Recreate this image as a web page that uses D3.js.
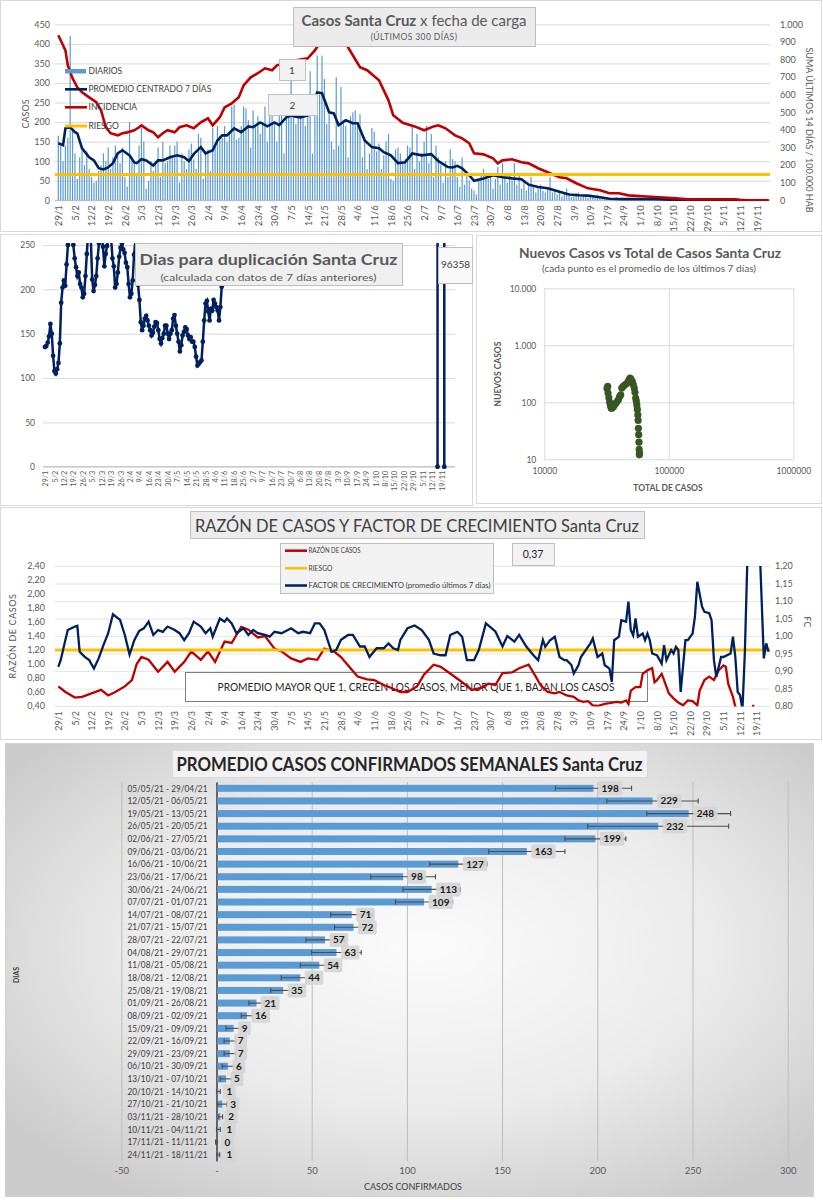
<!DOCTYPE html>
<html>
<head>
<meta charset="utf-8">
<script src="https://cdn.jsdelivr.net/npm/d3@7"></script>
<style>
  body { margin: 0; background: #fff; }
  svg { display: block; font-family: Lato, 'Open Sans', sans-serif; }
</style>
</head>
<body>
<div id="chart"></div>
<script>
// ---- datos ----
var weekLabels = ['29/1', '5/2', '12/2', '19/2', '26/2', '5/3', '12/3', '19/3', '26/3', '2/4', '9/4',
  '16/4', '23/4', '30/4', '7/5', '14/5', '21/5', '28/5', '4/6', '11/6', '18/6', '25/6', '2/7', '9/7',
  '16/7', '23/7', '30/7', '6/8', '13/8', '20/8', '27/8', '3/9', '10/9', '17/9', '24/9', '1/10', '8/10',
  '15/10', '22/10', '29/10', '5/11', '12/11', '19/11'];

// casos diarios desde 29/1 (300 dias)
var dailyCases = [
  165, 140, 100, 140, 160, 420, 180,
  120, 55, 110, 130, 90, 125, 80,
  60, 45, 50, 75, 90, 120, 100,
  135, 80, 110, 140, 120, 95, 135,
  60, 35, 200, 110, 95, 70, 140,
  185, 150, 30, 50, 100, 75, 90,
  135, 60, 150, 95, 100, 140, 110,
  140, 150, 45, 120, 100, 80, 130,
  145, 105, 80, 170, 160, 55, 120,
  130, 75, 185, 140, 190, 165, 160,
  190, 150, 170, 240, 245, 155, 160,
  190, 240, 235, 205, 135, 230, 190,
  215, 170, 200, 240, 150, 215, 240,
  195, 150, 230, 250, 120, 250, 250,
  310, 240, 195, 250, 220, 260, 190,
  240, 330, 120, 270, 370, 270, 370,
  310, 195, 220, 150, 130, 315, 140,
  290, 205, 190, 110, 215, 225, 230,
  200, 220, 110, 150, 80, 120, 185,
  175, 125, 145, 80, 115, 150, 170,
  55, 50, 130, 135, 120, 95, 105,
  140, 135, 190, 80, 170, 100, 120,
  150, 190, 95, 170, 60, 140, 110,
  90, 45, 100, 60, 130, 105, 100,
  60, 35, 110, 40, 75, 50, 30,
  25, 15, 55, 70, 80, 60, 55,
  70, 30, 55, 85, 40, 95, 60,
  45, 65, 50, 95, 40, 70, 30,
  50, 25, 45, 60, 35, 20, 30,
  40, 25, 20, 30, 60, 20, 25,
  15, 25, 10, 20, 30, 12, 8,
  10, 18, 20, 8, 12, 15, 6,
  12, 8, 6, 14, 10, 5, 8,
  4, 6, 2, 3, 8, 2, 3,
  3, 5, 2, 4, 1, 3, 6,
  2, 4, 3, 5, 1, 3, 2,
  1, 0, 3, 1, 2, 0, 1,
  0, 2, 0, 1, 3, 0, 1,
  1, 0, 0, 2, 0, 1, 0,
  0, 1, 0, 0, 2, 0, 0,
  1, 0, 0, 1, 0, 0, 0,
  0, 0, 0, 0, 1, 0, 0,
  0, 1, 0, 0, 0, 0
];

// [dia, valor]
var promedio7 = [[0, 146], [2, 141], [3, 184], [5, 187], [7, 174], [8, 171], [10, 133], [13, 110], [15, 102],
  [17, 82], [19, 79], [21, 84], [23, 95], [25, 120], [27, 128], [30, 115], [32, 97], [33, 95], [35, 105],
  [37, 102], [40, 89], [42, 102], [44, 102], [47, 110], [50, 115], [53, 110], [55, 100], [57, 118], [60, 136],
  [62, 120], [65, 128], [67, 153], [69, 166], [71, 166], [74, 184], [77, 174], [80, 189], [82, 187], [85, 199],
  [88, 189], [91, 199], [93, 192], [96, 212], [98, 217], [100, 214], [102, 212], [105, 217], [107, 245],
  [109, 276], [111, 274], [114, 225], [116, 222], [118, 192], [121, 205], [124, 197], [126, 197], [129, 153],
  [132, 136], [135, 133], [137, 123], [140, 115], [143, 95], [146, 97], [149, 120], [153, 115], [157, 118],
  [160, 100], [164, 85], [166, 84], [168, 88], [170, 82], [173, 64], [175, 50], [179, 56], [183, 64], [187, 59],
  [191, 56], [195, 54], [198, 40], [202, 34], [206, 31], [211, 22], [215, 15], [219, 13], [223, 12], [228, 8],
  [232, 4], [237, 3], [243, 3], [251, 3], [260, 1], [270, 1], [280, 0], [290, 0], [299, 0]];

var incidencia = [[0, 938], [3, 852], [4, 767], [6, 693], [8, 642], [10, 614], [13, 585], [16, 557], [18, 511],
  [20, 415], [22, 381], [25, 369], [27, 381], [29, 386], [32, 398], [34, 415], [35, 426], [38, 398], [40, 386],
  [42, 358], [44, 381], [46, 398], [49, 386], [51, 415], [54, 426], [57, 409], [60, 443], [63, 466], [65, 426],
  [68, 472], [70, 528], [73, 551], [76, 585], [78, 653], [81, 699], [84, 722], [87, 750], [90, 739], [92, 767],
  [96, 780], [100, 795], [105, 807], [108, 852], [110, 892], [113, 960], [116, 1020], [119, 980], [122, 869],
  [127, 756], [130, 739], [135, 682], [139, 568], [141, 483], [145, 440], [150, 420], [154, 398], [158, 420],
  [160, 426], [163, 409], [167, 369], [170, 352], [173, 324], [175, 267], [179, 261], [183, 239], [185, 210],
  [187, 227], [191, 233], [195, 216], [198, 210], [202, 182], [206, 159], [211, 131], [214, 125], [218, 97],
  [223, 68], [228, 57], [232, 40], [236, 40], [240, 28], [246, 23], [253, 17], [260, 11], [265, 6], [277, 6],
  [285, 6], [287, 3], [290, 0], [299, 0]];

var riesgoIncidencia = 146;

var duplicacion = [[0, 135], [1, 136], [2, 140], [3, 147], [4, 161], [5, 150], [6, 125], [7, 108], [8, 105],
  [9, 110], [10, 117], [11, 139], [12, 185], [13, 202], [14, 210], [15, 204], [16, 228], [17, 250], [18, 275],
  [19, 290], [20, 275], [21, 250], [22, 235], [23, 225], [24, 215], [25, 219], [26, 206], [27, 202], [28, 191],
  [29, 195], [30, 215], [31, 240], [32, 265], [33, 280], [34, 255], [35, 211], [36, 198], [37, 205], [38, 215],
  [39, 235], [40, 252], [41, 265], [42, 270], [43, 248], [44, 226], [45, 240], [46, 249], [47, 262], [48, 275],
  [49, 258], [50, 235], [51, 226], [52, 202], [53, 206], [54, 219], [55, 237], [56, 247], [57, 252], [58, 245],
  [59, 241], [60, 230], [61, 225], [62, 206], [63, 191], [64, 195], [65, 210], [66, 239], [67, 255], [68, 245],
  [69, 205], [70, 188], [71, 163], [72, 154], [73, 159], [74, 167], [75, 170], [76, 165], [77, 159], [78, 154],
  [79, 148], [80, 151], [81, 158], [82, 163], [83, 162], [84, 154], [85, 144], [86, 139], [87, 145], [88, 150],
  [89, 159], [90, 159], [91, 150], [92, 144], [93, 150], [94, 154], [95, 167], [96, 171], [97, 159], [98, 150],
  [99, 141], [100, 130], [101, 137], [102, 148], [103, 152], [104, 157], [105, 155], [106, 148], [107, 144],
  [108, 146], [109, 141], [110, 141], [111, 135], [112, 124], [113, 114], [114, 116], [115, 118], [116, 120],
  [117, 141], [118, 165], [119, 184], [120, 187], [121, 175], [122, 165], [123, 178], [124, 176], [125, 188],
  [126, 184], [127, 180], [128, 176], [129, 165], [130, 180], [131, 203],
  [132, null],
  [291, 0], [292, 96358], [295, 96358], [296, 0]];
var duplicacionEtiqueta = '96358';

var scatterTotal = [32300, 31900, 32500, 33000, 33500, 34000, 34500, 35200, 36000, 37000, 38000, 39300, 40200,
  41100, 41900, 43000, 44500, 46000, 47300, 48200, 48800, 49600, 50900, 51800, 52800, 53500, 54200, 54800,
  55400, 55900, 56400, 56700, 57000, 57300, 57600, 57800, 58000, 58100];
var scatterNuevos = [190, 175, 145, 120, 100, 88, 79, 80, 84, 92, 100, 110, 125, 135, 178, 190, 203, 215, 232,
  250, 267, 255, 232, 205, 178, 150, 119, 105, 90, 75, 60, 48, 35, 27, 20, 15, 12, 13];

var razonCasos = [[0, 0.68], [3, 0.60], [7, 0.52], [10, 0.53], [14, 0.58], [18, 0.63], [21, 0.55], [24, 0.60],
  [28, 0.68], [31, 0.77], [33, 1.00], [35, 1.10], [38, 1.06], [42, 0.89], [46, 1.03], [49, 0.89], [53, 1.03],
  [56, 1.18], [60, 1.06], [63, 1.18], [66, 1.03], [70, 1.32], [73, 1.30], [77, 1.53], [80, 1.49], [84, 1.38],
  [87, 1.40], [91, 1.22], [94, 1.18], [98, 1.08], [102, 1.03], [105, 1.08], [109, 1.06], [112, 1.22],
  [116, 1.18], [119, 1.10], [123, 0.94], [126, 0.82], [130, 0.78], [133, 0.77], [137, 0.70], [140, 0.66],
  [144, 0.60], [147, 0.60], [151, 0.68], [154, 0.85], [158, 0.99], [161, 0.96], [166, 0.84], [170, 0.74],
  [174, 0.63], [178, 0.66], [181, 0.72], [184, 0.70], [187, 0.87], [191, 0.88], [194, 0.94], [198, 0.99],
  [201, 0.82], [203, 0.70], [206, 0.60], [209, 0.58], [211, 0.60], [214, 0.55], [217, 0.53], [219, 0.48],
  [221, 0.46], [223, 0.47], [225, 0.41], [227, 0.40], [230, 0.43], [232, 0.44], [235, 0.46], [237, 0.45],
  [239, 0.48], [240, 0.43], [241, 0.62], [243, 0.67], [245, 0.67], [246, 0.86], [248, 0.91], [250, 0.94],
  [251, 0.74], [252, 0.77], [254, 0.86], [255, 0.77], [257, 0.58], [259, 0.51], [261, 0.45], [263, 0.41],
  [265, 0.48], [267, 0.47], [269, 0.41], [270, 0.62], [272, 0.77], [274, 0.82], [276, 0.77], [278, 0.91],
  [280, 0.98], [281, 0.96], [282, 0.72], [284, 0.53], [285, 0.39], [286, 0.30]];
var razonFinal = [[292, 0.40], [293, 0.40]];

var factorCrecimiento = [[0, 0.912], [1, 0.931], [3, 0.989], [4, 1.017], [7, 1.027], [8, 1.029], [9, 0.955],
  [11, 0.941], [13, 0.931], [15, 0.907], [17, 0.936], [19, 0.974], [21, 1.008], [23, 1.062], [26, 1.046],
  [28, 1.003], [30, 0.947], [32, 0.988], [34, 1.014], [36, 1.022], [38, 1.041], [40, 1.003], [42, 1.017],
  [44, 1.012], [46, 1.027], [49, 1.017], [51, 1.008], [53, 0.988], [55, 1.008], [57, 1.041], [60, 1.027],
  [62, 1.008], [64, 1.022], [65, 0.998], [68, 1.050], [70, 1.041], [71, 1.050], [73, 1.036], [75, 1.008],
  [78, 1.022], [80, 1.003], [82, 1.017], [84, 1.008], [87, 1.003], [89, 0.998], [91, 1.012], [94, 1.008],
  [98, 1.022], [101, 1.008], [103, 1.012], [106, 1.008], [108, 1.036], [110, 1.036], [112, 1.017], [115, 0.955],
  [117, 0.960], [119, 0.989], [122, 1.003], [124, 1.003], [127, 0.970], [129, 0.970], [131, 0.940], [134, 0.965],
  [137, 0.965], [139, 0.979], [141, 0.965], [143, 0.960], [144, 0.989], [147, 1.022], [150, 1.030], [153, 1.017],
  [156, 0.989], [158, 0.950], [161, 0.945], [163, 0.945], [165, 1.003], [168, 1.012], [170, 0.998], [172, 0.931],
  [175, 0.931], [177, 0.960], [180, 1.036], [184, 1.013], [187, 0.970], [189, 1.000], [192, 0.984], [194, 1.003],
  [197, 0.970], [200, 0.945], [202, 0.931], [204, 0.989], [205, 0.969], [207, 0.988], [209, 0.998], [211, 0.940],
  [213, 0.931], [214, 0.931], [216, 0.917], [217, 0.893], [219, 0.917], [220, 0.940], [224, 0.979], [225, 0.993],
  [227, 0.940], [229, 0.950], [230, 0.917], [232, 0.907], [233, 0.869], [234, 0.988], [236, 0.998], [237, 1.045],
  [239, 1.041], [240, 1.098], [241, 1.017], [242, 1.002], [243, 1.050], [244, 0.998], [246, 1.007], [247, 0.988],
  [248, 1.007], [249, 0.988], [250, 0.950], [252, 0.945], [254, 0.921], [255, 0.974], [256, 0.931], [258, 0.960],
  [259, 0.950], [260, 0.969], [261, 0.960], [262, 0.840], [264, 0.988], [265, 0.988], [267, 1.007], [268, 1.055],
  [269, 1.155], [271, 1.084], [272, 1.069], [274, 1.065], [275, 1.045], [276, 0.931], [277, 0.883], [279, 0.940],
  [280, 0.940], [283, 0.950], [284, 0.998], [285, 0.940], [286, 0.840], [287, 0.831], [288, 0.790], [289, 0.950],
  [290, 1.200], [291, 1.300], [295, 1.300], [297, 0.936], [298, 0.979], [299, 0.955]];
var riesgoRazon = 1.2;
var ultimoValor = '0,37';

var semanas = ['05/05/21 - 29/04/21', '12/05/21 - 06/05/21', '19/05/21 - 13/05/21', '26/05/21 - 20/05/21',
  '02/06/21 - 27/05/21', '09/06/21 - 03/06/21', '16/06/21 - 10/06/21', '23/06/21 - 17/06/21',
  '30/06/21 - 24/06/21', '07/07/21 - 01/07/21', '14/07/21 - 08/07/21', '21/07/21 - 15/07/21',
  '28/07/21 - 22/07/21', '04/08/21 - 29/07/21', '11/08/21 - 05/08/21', '18/08/21 - 12/08/21',
  '25/08/21 - 19/08/21', '01/09/21 - 26/08/21', '08/09/21 - 02/09/21', '15/09/21 - 09/09/21',
  '22/09/21 - 16/09/21', '29/09/21 - 23/09/21', '06/10/21 - 30/09/21', '13/10/21 - 07/10/21',
  '20/10/21 - 14/10/21', '27/10/21 - 21/10/21', '03/11/21 - 28/10/21', '10/11/21 - 04/11/21',
  '17/11/21 - 11/11/21', '24/11/21 - 18/11/21'];
var promedioSemanal = [198, 229, 248, 232, 199, 163, 127, 98, 113, 109, 71, 72, 57, 63, 54, 44, 35, 21, 16, 9,
  7, 7, 6, 5, 1, 3, 2, 1, 0, 1];
var errorSemanal = [20, 24, 22, 37, 16, 20, 15, 17, 15, 15, 11, 10, 10, 13, 10, 10, 6.5, 4, 3, 4, 3, 3, 3, 3,
  1, 2.5, 1.2, 1, 0.5, 0.7];

// ---- util ----
var svg = d3.select('#chart').append('svg').attr('width', 823).attr('height', 1200);
var es = d3.formatLocale({ decimal: ',', thousands: '.', grouping: [3], currency: ['', ''] });
var weekDays = weekLabels.map(function(d, i) { return i * 7; });

function panel(x, y, w, h) {
  svg.append('rect').attr('x', x + 0.5).attr('y', y + 0.5).attr('width', w).attr('height', h)
    .attr('fill', '#fff').attr('stroke', '#d9d9d9');
}
function box(x, y, w, h, fill) {
  return svg.append('rect').attr('x', x + 0.5).attr('y', y + 0.5).attr('width', w).attr('height', h)
    .attr('fill', fill || '#ebebeb').attr('stroke', '#bfbfbf');
}
function txt(x, y, s, size, color, anchor, weight) {
  return svg.append('text').attr('x', x).attr('y', y).text(s)
    .attr('font-size', size).attr('fill', color || '#595959')
    .attr('text-anchor', anchor || 'middle').attr('font-weight', weight || 'normal');
}
function clip(id, x, y, w, h) {
  svg.append('clipPath').attr('id', id).append('rect')
    .attr('x', x).attr('y', y).attr('width', w).attr('height', h);
  return 'url(#' + id + ')';
}
function cleanAxis(g, size, lineColor) {
  g.attr('font-family', null).attr('font-size', size);
  g.select('.domain').remove();
  g.selectAll('.tick line').attr('stroke', lineColor || '#d9d9d9');
  g.selectAll('.tick text').attr('fill', '#595959');
}
function rotateTicks(g, off) {
  g.selectAll('.tick text').attr('transform', 'rotate(-90)').attr('text-anchor', 'end')
    .attr('x', -off).attr('y', 0).attr('dy', '0.35em');
}

// ================= 1. Casos x fecha de carga =================
panel(0, 0, 821, 231);
var x1 = d3.scaleLinear().domain([0, 294]).range([58.3, 756.7]);
var y1 = d3.scaleLinear().domain([0, 450]).range([200.3, 24.3]);
var y1r = d3.scaleLinear().domain([0, 1000]).range([200.3, 24.3]);

svg.append('g').attr('transform', 'translate(55,0)')
  .call(d3.axisLeft(y1).tickValues(d3.range(0, 451, 50)).tickSize(-715).tickPadding(5))
  .call(cleanAxis, 9);
svg.append('g').attr('transform', 'translate(770,0)')
  .call(d3.axisRight(y1r).tickValues(d3.range(0, 1001, 100)).tickSize(0).tickPadding(10).tickFormat(es.format(',')))
  .call(cleanAxis, 9);
svg.append('g').attr('transform', 'translate(0,' + y1(0) + ')')
  .call(d3.axisBottom(x1).tickValues(weekDays).tickSize(0).tickFormat(function(d, i) { return weekLabels[i]; }))
  .call(cleanAxis, 9.5).call(rotateTicks, 5);
svg.append('line').attr('x1', 55).attr('x2', 770).attr('y1', y1(0)).attr('y2', y1(0)).attr('stroke', '#bfbfbf');

var c1 = clip('c1', 55, 24, 715, 177);
svg.append('g').attr('clip-path', c1).selectAll('rect').data(dailyCases).join('rect')
  .attr('x', function(d, i) { return x1(i) - 0.6; }).attr('width', 1.2)
  .attr('y', function(d) { return y1(d); })
  .attr('height', function(d) { return y1(0) - y1(d); })
  .attr('fill', '#5b9bd5');

var line1 = d3.line().x(function(d) { return x1(d[0]); }).y(function(d) { return y1(d[1]); });
var line1r = d3.line().x(function(d) { return x1(d[0]); }).y(function(d) { return y1r(d[1]); });
svg.append('path').datum(promedio7).attr('d', line1).attr('clip-path', c1)
  .attr('fill', 'none').attr('stroke', '#002060').attr('stroke-width', 2.6);
svg.append('path').datum(incidencia).attr('d', line1r).attr('clip-path', c1)
  .attr('fill', 'none').attr('stroke', '#c00000').attr('stroke-width', 2.6);
svg.append('line').attr('x1', 55).attr('x2', 770)
  .attr('y1', y1r(riesgoIncidencia)).attr('y2', y1r(riesgoIncidencia))
  .attr('stroke', '#ffc000').attr('stroke-width', 3);

// leyenda
svg.append('rect').attr('x', 65).attr('y', 69).attr('width', 21).attr('height', 4.5).attr('fill', '#5b9bd5');
[[89.3, '#002060', 2.6], [107.3, '#c00000', 2.6], [126, '#ffc000', 3]].forEach(function(s) {
  svg.append('line').attr('x1', 65).attr('x2', 87).attr('y1', s[0]).attr('y2', s[0])
    .attr('stroke', s[1]).attr('stroke-width', s[2]);
});
['DIARIOS', 'PROMEDIO CENTRADO 7 DÍAS', 'INCIDENCIA', 'RIESGO'].forEach(function(s, i) {
  txt(88.5, [71.3, 89.3, 107.3, 126][i], s, 8.5, '#404040', 'start').attr('dy', '0.35em');
});

txt(26, 114, 'CASOS', 9, '#595959').attr('transform', 'rotate(-90,26,114)').attr('dy', '0.35em');
txt(809, 130, 'SUMA  ÚLTIMOS 14 DÍAS / 100.000 HAB', 9, '#595959')
  .attr('transform', 'rotate(90,809,130)').attr('dy', '0.35em');

box(293, 7, 242, 39);
var t1 = txt(414, 26, '', 15, '#595959');
t1.append('tspan').text('Casos  Santa  Cruz').attr('font-weight', 'bold');
t1.append('tspan').text(' x  fecha  de  carga');
txt(414, 40, '(ÚLTIMOS 300 DÍAS)', 8.5, '#595959').attr('letter-spacing', 0.4);
box(279, 59, 26, 21, '#f2f2f2');
txt(292, 73.5, '1', 10, '#404040');
box(268, 94, 49, 21, '#f2f2f2');
txt(292.5, 108.5, '2', 10, '#404040');

// ================= 2. Dias para duplicacion =================
panel(0, 234, 472, 271);
var x2 = d3.scaleLinear().domain([0, 294]).range([45, 441.6]);
var y2 = d3.scaleLinear().domain([0, 250]).range([466.7, 245]);
svg.append('g').attr('transform', 'translate(43,0)')
  .call(d3.axisLeft(y2).tickValues(d3.range(0, 251, 50)).tickSize(-412).tickPadding(8))
  .call(cleanAxis, 8.5);
svg.append('g').attr('transform', 'translate(0,' + y2(0) + ')')
  .call(d3.axisBottom(x2).tickValues(weekDays).tickSize(0).tickFormat(function(d, i) { return weekLabels[i]; }))
  .call(cleanAxis, 7.3).call(rotateTicks, 4);
svg.append('line').attr('x1', 43).attr('x2', 455).attr('y1', y2(0)).attr('y2', y2(0)).attr('stroke', '#bfbfbf');

var c2 = clip('c2', 40, 243, 420, 226);
var line2 = d3.line().defined(function(d) { return d[1] != null; })
  .x(function(d) { return x2(d[0]); }).y(function(d) { return y2(d[1]); });
svg.append('path').datum(duplicacion).attr('d', line2).attr('clip-path', c2)
  .attr('fill', 'none').attr('stroke', '#002060').attr('stroke-width', 2.5);
svg.append('g').attr('clip-path', c2).selectAll('circle')
  .data(duplicacion.filter(function(d) { return d[1] != null; })).join('circle')
  .attr('cx', function(d) { return x2(d[0]); }).attr('cy', function(d) { return y2(d[1]); })
  .attr('r', 2.4).attr('fill', '#002060');

box(135, 243, 267, 42, '#efefef');
txt(268.5, 265, 'Dias para duplicación Santa Cruz', 16, '#595959', 'middle', 'bold')
  .attr('textLength', 258).attr('lengthAdjust', 'spacingAndGlyphs');
txt(268.5, 281, '(calculada con datos de 7 días anteriores)', 10, '#595959')
  .attr('textLength', 216).attr('lengthAdjust', 'spacingAndGlyphs');
box(438, 247, 34, 36, '#f8f8f8');
txt(455.5, 268, duplicacionEtiqueta, 10, '#404040');

// ================= 3. Nuevos casos vs total =================
panel(476, 235, 345, 268);
var x3 = d3.scaleLog().domain([1e4, 1e6]).range([544.3, 793.3]);
var y3 = d3.scaleLog().domain([10, 1e4]).range([459.3, 288.3]);
svg.append('g').attr('transform', 'translate(544.3,0)')
  .call(d3.axisLeft(y3).tickValues([10, 100, 1000, 10000]).tickSize(-249).tickPadding(8).tickFormat(es.format(',')))
  .call(cleanAxis, 8.5);
svg.append('g').attr('transform', 'translate(0,459.3)')
  .call(d3.axisBottom(x3).tickValues([1e4, 1e5, 1e6]).tickSize(-171).tickPadding(9).tickFormat(d3.format('d')))
  .call(cleanAxis, 8.5);
svg.selectAll('.scatter').data(scatterTotal).join('circle').attr('class', 'scatter')
  .attr('cx', function(d) { return x3(d); })
  .attr('cy', function(d, i) { return y3(scatterNuevos[i]); })
  .attr('r', 3.6).attr('fill', '#375623');
txt(650, 258, 'Nuevos Casos vs Total de Casos Santa Cruz', 12.5, '#595959', 'middle', 'bold')
  .attr('textLength', 262).attr('lengthAdjust', 'spacingAndGlyphs');
txt(649, 272, '(cada punto es el promedio de los últimos 7 días)', 8.5, '#595959')
  .attr('textLength', 214).attr('lengthAdjust', 'spacingAndGlyphs');
txt(668, 491, 'TOTAL DE CASOS', 8.5, '#595959', 'middle', 'bold');
txt(498, 374, 'NUEVOS CASOS', 8.5, '#595959', 'middle', 'bold')
  .attr('transform', 'rotate(-90,498,374)').attr('dy', '0.35em');

// ================= 4. Razon de casos y factor de crecimiento =================
panel(0, 507, 821, 232);
var x4 = d3.scaleLinear().domain([0, 294]).range([58.3, 756.7]);
var y4 = d3.scaleLinear().domain([0.4, 2.4]).range([706, 566]);
var y4r = d3.scaleLinear().domain([0.8, 1.2]).range([706, 566]);
svg.append('g').attr('transform', 'translate(55,0)')
  .call(d3.axisLeft(y4).tickValues(d3.range(0, 11).map(function(i) { return 0.4 + i * 0.2; }))
    .tickSize(0).tickPadding(10).tickFormat(es.format('.2f')))
  .call(cleanAxis, 9);
svg.append('g').attr('transform', 'translate(770,0)')
  .call(d3.axisRight(y4r).tickValues(d3.range(0, 9).map(function(i) { return 0.8 + i * 0.05; }))
    .tickSize(-715).tickPadding(5).tickFormat(es.format('.2f')))
  .call(cleanAxis, 9, '#e6e6e6');
svg.append('g').attr('transform', 'translate(0,706)')
  .call(d3.axisBottom(x4).tickValues(weekDays).tickSize(0).tickFormat(function(d, i) { return weekLabels[i]; }))
  .call(cleanAxis, 9).call(rotateTicks, 5);
txt(13, 636, 'RAZÓN DE CASOS', 9, '#595959').attr('letter-spacing', 0.6)
  .attr('transform', 'rotate(-90,13,636)').attr('dy', '0.35em');
txt(807, 622, 'FC', 9, '#595959').attr('transform', 'rotate(90,807,622)').attr('dy', '0.35em');

box(185, 672, 462, 29, '#fff').attr('stroke', '#7f7f7f');
txt(416, 691, 'PROMEDIO MAYOR QUE 1, CRECEN LOS CASOS, MENOR QUE 1, BAJAN LOS CASOS', 11.5, '#262626')
  .attr('textLength', 397).attr('lengthAdjust', 'spacingAndGlyphs');

var c4 = clip('c4', 55, 566, 715, 140.5);
var line4 = d3.line().x(function(d) { return x4(d[0]); }).y(function(d) { return y4(d[1]); });
var line4r = d3.line().x(function(d) { return x4(d[0]); }).y(function(d) { return y4r(d[1]); });
svg.append('path').datum(razonCasos).attr('d', line4).attr('clip-path', c4)
  .attr('fill', 'none').attr('stroke', '#c00000').attr('stroke-width', 2.3);
svg.append('path').datum(razonFinal).attr('d', line4).attr('clip-path', c4)
  .attr('fill', 'none').attr('stroke', '#c00000').attr('stroke-width', 2.3);
svg.append('line').attr('x1', 55).attr('x2', 770).attr('y1', y4(riesgoRazon)).attr('y2', y4(riesgoRazon))
  .attr('stroke', '#ffc000').attr('stroke-width', 3);
svg.append('path').datum(factorCrecimiento).attr('d', line4r).attr('clip-path', c4)
  .attr('fill', 'none').attr('stroke', '#002060').attr('stroke-width', 2.3);

box(190, 511, 454, 27, '#ececec');
txt(417, 532, 'RAZÓN DE CASOS Y FACTOR DE CRECIMIENTO Santa Cruz', 17.5, '#404040')
  .attr('textLength', 444).attr('lengthAdjust', 'spacingAndGlyphs');
box(280, 543, 213, 50, '#f2f2f2');
[[550.7, '#c00000', 'RAZÓN DE CASOS', 52], [568.3, '#ffc000', 'RIESGO', 24],
  [585.5, '#002060', 'FACTOR DE CRECIMIENTO (promedio últimos 7 días)', 182]].forEach(function(s) {
  svg.append('line').attr('x1', 285).attr('x2', 307).attr('y1', s[0]).attr('y2', s[0])
    .attr('stroke', s[1]).attr('stroke-width', 2.5);
  txt(308.5, s[0], s[2], 7.5, '#404040', 'start').attr('dy', '0.35em')
    .attr('textLength', s[3]).attr('lengthAdjust', 'spacingAndGlyphs');
});
box(512, 543, 42, 22, '#f2f2f2');
txt(533, 558, ultimoValor, 10.5, '#262626');

// ================= 5. Promedio casos confirmados semanales =================
var grad = svg.append('defs').append('radialGradient').attr('id', 'bg')
  .attr('cx', '52%').attr('cy', '45%').attr('r', '65%');
grad.append('stop').attr('offset', '0%').attr('stop-color', '#fbfbfb');
grad.append('stop').attr('offset', '55%').attr('stop-color', '#ebebeb');
grad.append('stop').attr('offset', '100%').attr('stop-color', '#cbcbcb');
svg.append('rect').attr('x', 5.5).attr('y', 743.5).attr('width', 808).attr('height', 453)
  .attr('fill', 'url(#bg)').attr('stroke', '#d0d0d0');

var x5 = d3.scaleLinear().domain([-50, 300]).range([121.3, 787.7]);
var y5 = d3.scaleBand().domain(semanas).range([782, 1161]);
svg.append('g').attr('transform', 'translate(0,1161)')
  .call(d3.axisBottom(x5).tickValues(d3.range(-50, 301, 50)).tickSize(-379).tickPadding(6)
    .tickFormat(function(d) { return d === 0 ? '-' : d; }))
  .call(cleanAxis, 9.5, '#bdbdbd');
svg.append('g').attr('transform', 'translate(' + x5(0) + ',0)')
  .call(d3.axisLeft(y5).tickSize(0).tickPadding(9))
  .call(function(g) {
    g.attr('font-family', null).attr('font-size', 10);
    g.select('.domain').attr('stroke', '#404040').attr('stroke-width', 1.5);
    g.selectAll('.tick text').attr('fill', '#404040')
      .attr('textLength', 80).attr('lengthAdjust', 'spacingAndGlyphs');
  });

var bars5 = svg.append('g');
bars5.selectAll('rect').data(promedioSemanal).join('rect')
  .attr('x', x5(0) + 0.8)
  .attr('y', function(d, i) { return y5(semanas[i]) + y5.bandwidth() / 2 - 3.5; })
  .attr('width', function(d) { return Math.max(0, x5(d) - x5(0) - 0.8); })
  .attr('height', 7).attr('fill', '#5b9bd5');
var err5 = svg.append('g').attr('stroke', '#4d4d4d').attr('stroke-width', 1.1);
promedioSemanal.forEach(function(v, i) {
  var cy = y5(semanas[i]) + y5.bandwidth() / 2;
  var a = x5(v - errorSemanal[i]), b = x5(v + errorSemanal[i]);
  err5.append('line').attr('x1', a).attr('x2', b).attr('y1', cy).attr('y2', cy);
  err5.append('line').attr('x1', a).attr('x2', a).attr('y1', cy - 2.5).attr('y2', cy + 2.5);
  err5.append('line').attr('x1', b).attr('x2', b).attr('y1', cy - 2.5).attr('y2', cy + 2.5);
});
promedioSemanal.forEach(function(v, i) {
  var cy = y5(semanas[i]) + y5.bandwidth() / 2;
  var g = svg.append('g');
  var bg = g.append('rect').attr('fill', '#d4d4d4').attr('opacity', 0.9).attr('rx', 2);
  var t = g.append('text').attr('x', x5(v) + 8).attr('y', cy).attr('dy', '0.35em')
    .attr('font-size', 10).attr('font-weight', 'bold').attr('fill', '#1a1a1a').text(v);
  var w = t.node().getComputedTextLength();
  bg.attr('x', x5(v) + 4.5).attr('y', cy - 7).attr('width', w + 7).attr('height', 14);
});

box(172, 750, 475, 27, '#f2f2f2').attr('stroke', '#d9d9d9');
txt(409.5, 771, 'PROMEDIO CASOS CONFIRMADOS SEMANALES Santa Cruz', 19, '#262626', 'middle', 'bold')
  .attr('textLength', 466).attr('lengthAdjust', 'spacingAndGlyphs');
txt(413, 1190, 'CASOS CONFIRMADOS', 9, '#404040');
txt(17, 975, 'DIAS', 7, '#404040', 'middle', 'bold')
  .attr('transform', 'rotate(-90,17,975)').attr('dy', '0.35em');
</script>
</body>
</html>
